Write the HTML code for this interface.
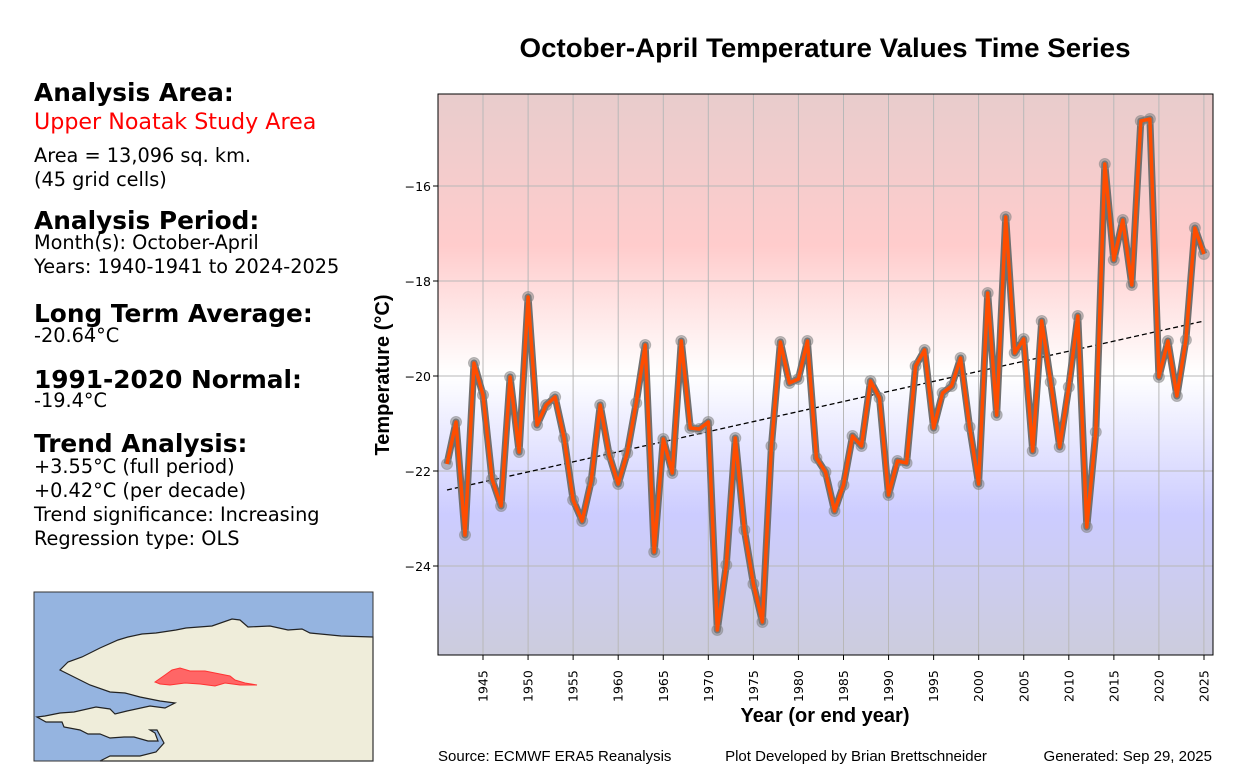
<!DOCTYPE html>
<html><head><meta charset="utf-8"><style>
body{margin:0;background:#fff;width:1250px;height:780px;overflow:hidden;font-family:"DejaVu Sans",sans-serif}
.t{position:absolute;left:34px;color:#000;white-space:nowrap}
.h{font-weight:bold;font-size:24.8px;line-height:30px}
.n{font-size:19.3px;line-height:24px}
</style></head><body>
<div class="t h" style="top:78px">Analysis Area:</div>
<div class="t" style="top:108px;font-size:22.2px;line-height:28px;color:#f00">Upper Noatak Study Area</div>
<div class="t n" style="top:144px">Area = 13,096 sq. km.<br>(45 grid cells)</div>
<div class="t h" style="top:206px">Analysis Period:</div>
<div class="t n" style="top:231px">Month(s): October-April<br>Years: 1940-1941 to 2024-2025</div>
<div class="t h" style="top:299px">Long Term Average:</div>
<div class="t n" style="top:324px">-20.64°C</div>
<div class="t h" style="top:365px">1991-2020 Normal:</div>
<div class="t n" style="top:389px">-19.4°C</div>
<div class="t h" style="top:429px">Trend Analysis:</div>
<div class="t n" style="top:455px">+3.55°C (full period)<br>+0.42°C (per decade)<br>Trend significance: Increasing<br>Regression type: OLS</div>
<svg width="1250" height="780" style="position:absolute;left:0;top:0" font-family="Liberation Sans, Arial, sans-serif">
<defs><linearGradient id="bg" x1="0" y1="94" x2="0" y2="655" gradientUnits="userSpaceOnUse">
<stop offset="0" stop-color="#e8cccc"/><stop offset="0.27" stop-color="#ffcccc"/><stop offset="0.5" stop-color="#ffffff"/><stop offset="0.75" stop-color="#ccccff"/><stop offset="1" stop-color="#ccccdd"/></linearGradient></defs>
<rect x="34" y="592" width="339" height="169" fill="#95b4e0"/>
<path d="M373,637 L341,636 310,633 302,629 288,630 270,626 248,627 240,620 232,619 212,626 186,628 176,630 156,633 142,634 128,637 118,640 100,648 82,657 68,662 60,670 68,674 90,685 110,692 125,693 140,697 160,701 175,703 165,708 150,706 127,711 115,714 110,709 96,707 74,712 60,713 45,716 37,717 46,722 62,722 64,727 80,730 88,734 100,734 110,738 124,737 134,737 148,741 158,741 155,733 150,730 157,730 164,743 156,752 140,756 110,756 100,761 373,761 Z" fill="#efedda" stroke="#222" stroke-width="1.2"/>
<path d="M155,682 L165,675 172,670 180,668 190,671 205,671 220,674 230,676 235,680 245,683 257,685 240,685 225,683 215,686 200,684 185,683 170,685 160,684Z" fill="#ff6666" stroke="#ff3333" stroke-width="1"/>
<rect x="34" y="592" width="339" height="169" fill="none" stroke="#333" stroke-width="1"/>
<text x="825" y="57" text-anchor="middle" font-size="27" font-weight="bold" textLength="611" lengthAdjust="spacingAndGlyphs">October-April Temperature Values Time Series</text>
<rect x="438" y="94" width="775" height="561" fill="url(#bg)"/>
<g stroke="#b8b8b8" stroke-width="1">
<line x1="438" x2="1213" y1="186" y2="186"/><line x1="438" x2="1213" y1="281" y2="281"/><line x1="438" x2="1213" y1="376" y2="376"/><line x1="438" x2="1213" y1="471" y2="471"/><line x1="438" x2="1213" y1="566" y2="566"/>
<line x1="483" x2="483" y1="94" y2="655"/><line x1="528.1" x2="528.1" y1="94" y2="655"/><line x1="573.1" x2="573.1" y1="94" y2="655"/><line x1="618.2" x2="618.2" y1="94" y2="655"/><line x1="663.3" x2="663.3" y1="94" y2="655"/><line x1="708.3" x2="708.3" y1="94" y2="655"/><line x1="753.4" x2="753.4" y1="94" y2="655"/><line x1="798.4" x2="798.4" y1="94" y2="655"/><line x1="843.5" x2="843.5" y1="94" y2="655"/><line x1="888.5" x2="888.5" y1="94" y2="655"/><line x1="933.6" x2="933.6" y1="94" y2="655"/><line x1="978.6" x2="978.6" y1="94" y2="655"/><line x1="1023.7" x2="1023.7" y1="94" y2="655"/><line x1="1068.8" x2="1068.8" y1="94" y2="655"/><line x1="1113.8" x2="1113.8" y1="94" y2="655"/><line x1="1158.9" x2="1158.9" y1="94" y2="655"/><line x1="1203.9" x2="1203.9" y1="94" y2="655"/>
</g>
<line x1="447" y1="490" x2="1204" y2="321" stroke="#000" stroke-width="1.3" stroke-dasharray="5,3"/>
<g id="pts">
<polyline fill="none" stroke="#707070" stroke-width="7" stroke-linejoin="round" points="447,464 456,422 465,535 474,363 483,395 492,479 501.1,506 510.1,377 519.1,452 528.1,297 537.1,425 546.1,405 555.1,397 564.1,438 573.1,500 582.2,521 591.2,481 600.2,405 609.2,455 618.2,484 627.2,453 636.2,403 645.2,345 654.2,552 663.3,439 672.3,473 681.3,341 690.3,428 699.3,429 708.3,422 717.3,630 726.3,565 735.3,438 744.4,530 753.4,584 762.4,622 771.4,446 780.4,342 789.4,383 798.4,379 807.4,341 816.4,458 825.5,472 834.5,511 843.5,485 852.5,436 861.5,446 870.5,381 879.5,398 888.5,495 897.5,461 906.6,463 915.6,366 924.6,350 933.6,428 942.6,393 951.6,386 960.6,358 969.6,427 978.6,484 987.7,293 996.7,415 1005.7,217 1014.7,353 1023.7,339 1032.7,451 1041.7,321 1050.7,382 1059.7,447 1068.8,387 1077.8,316 1086.8,527 1095.8,432 1104.8,164 1113.8,260 1122.8,220 1131.8,285 1140.8,121 1149.9,119 1158.9,377 1167.9,341 1176.9,396 1185.9,340 1194.9,228 1203.9,254"/>
</g>
<g fill="#808080" fill-opacity="0.5" stroke="#888" stroke-opacity="0.5" id="mk"></g>
<polyline id="ol" fill="none" stroke="#ff4d00" stroke-width="3.5" stroke-linejoin="round"/>
<rect x="438" y="94" width="775" height="561" fill="none" stroke="#000" stroke-width="1"/>
<g font-size="12.5" text-anchor="end" font-family="DejaVu Sans, sans-serif">
<text x="431" y="191">−16</text><text x="431" y="286">−18</text><text x="431" y="381">−20</text><text x="431" y="476">−22</text><text x="431" y="571">−24</text>
</g>
<g stroke="#000"><line x1="433" x2="438" y1="186" y2="186"/><line x1="433" x2="438" y1="281" y2="281"/><line x1="433" x2="438" y1="376" y2="376"/><line x1="433" x2="438" y1="471" y2="471"/><line x1="433" x2="438" y1="566" y2="566"/></g>
<g font-size="12.5" id="xt" font-family="DejaVu Sans, sans-serif"></g>
<text x="825" y="722" text-anchor="middle" font-size="20" font-weight="bold">Year (or end year)</text>
<text transform="translate(389,375) rotate(-90)" text-anchor="middle" font-size="20" font-weight="bold">Temperature (°C)</text>
<text x="438" y="761" font-size="15">Source: ECMWF ERA5 Reanalysis</text>
<text x="856" y="761" font-size="15" text-anchor="middle">Plot Developed by Brian Brettschneider</text>
<text x="1212" y="761" font-size="15" text-anchor="end">Generated: Sep 29, 2025</text>
</svg>
<script>
var pl=document.querySelector('#pts polyline');var p=pl.getAttribute('points');
document.getElementById('ol').setAttribute('points',p);
var mk=document.getElementById('mk'),s='';
p.trim().split(/\s+/).forEach(function(q){var a=q.split(',');s+='<circle cx="'+a[0]+'" cy="'+a[1]+'" r="5.5"/>';});
mk.innerHTML=s;
var xt=document.getElementById('xt'),t='';
for(var y=1945;y<=2025;y+=5){var x=483+(y-1945)*9.0125;
t+='<line x1="'+x+'" x2="'+x+'" y1="655" y2="660" stroke="#000"/><text transform="translate('+(x+4.5)+',702) rotate(-90)">'+y+'</text>';}
xt.innerHTML=t;
</script>
</body></html>
